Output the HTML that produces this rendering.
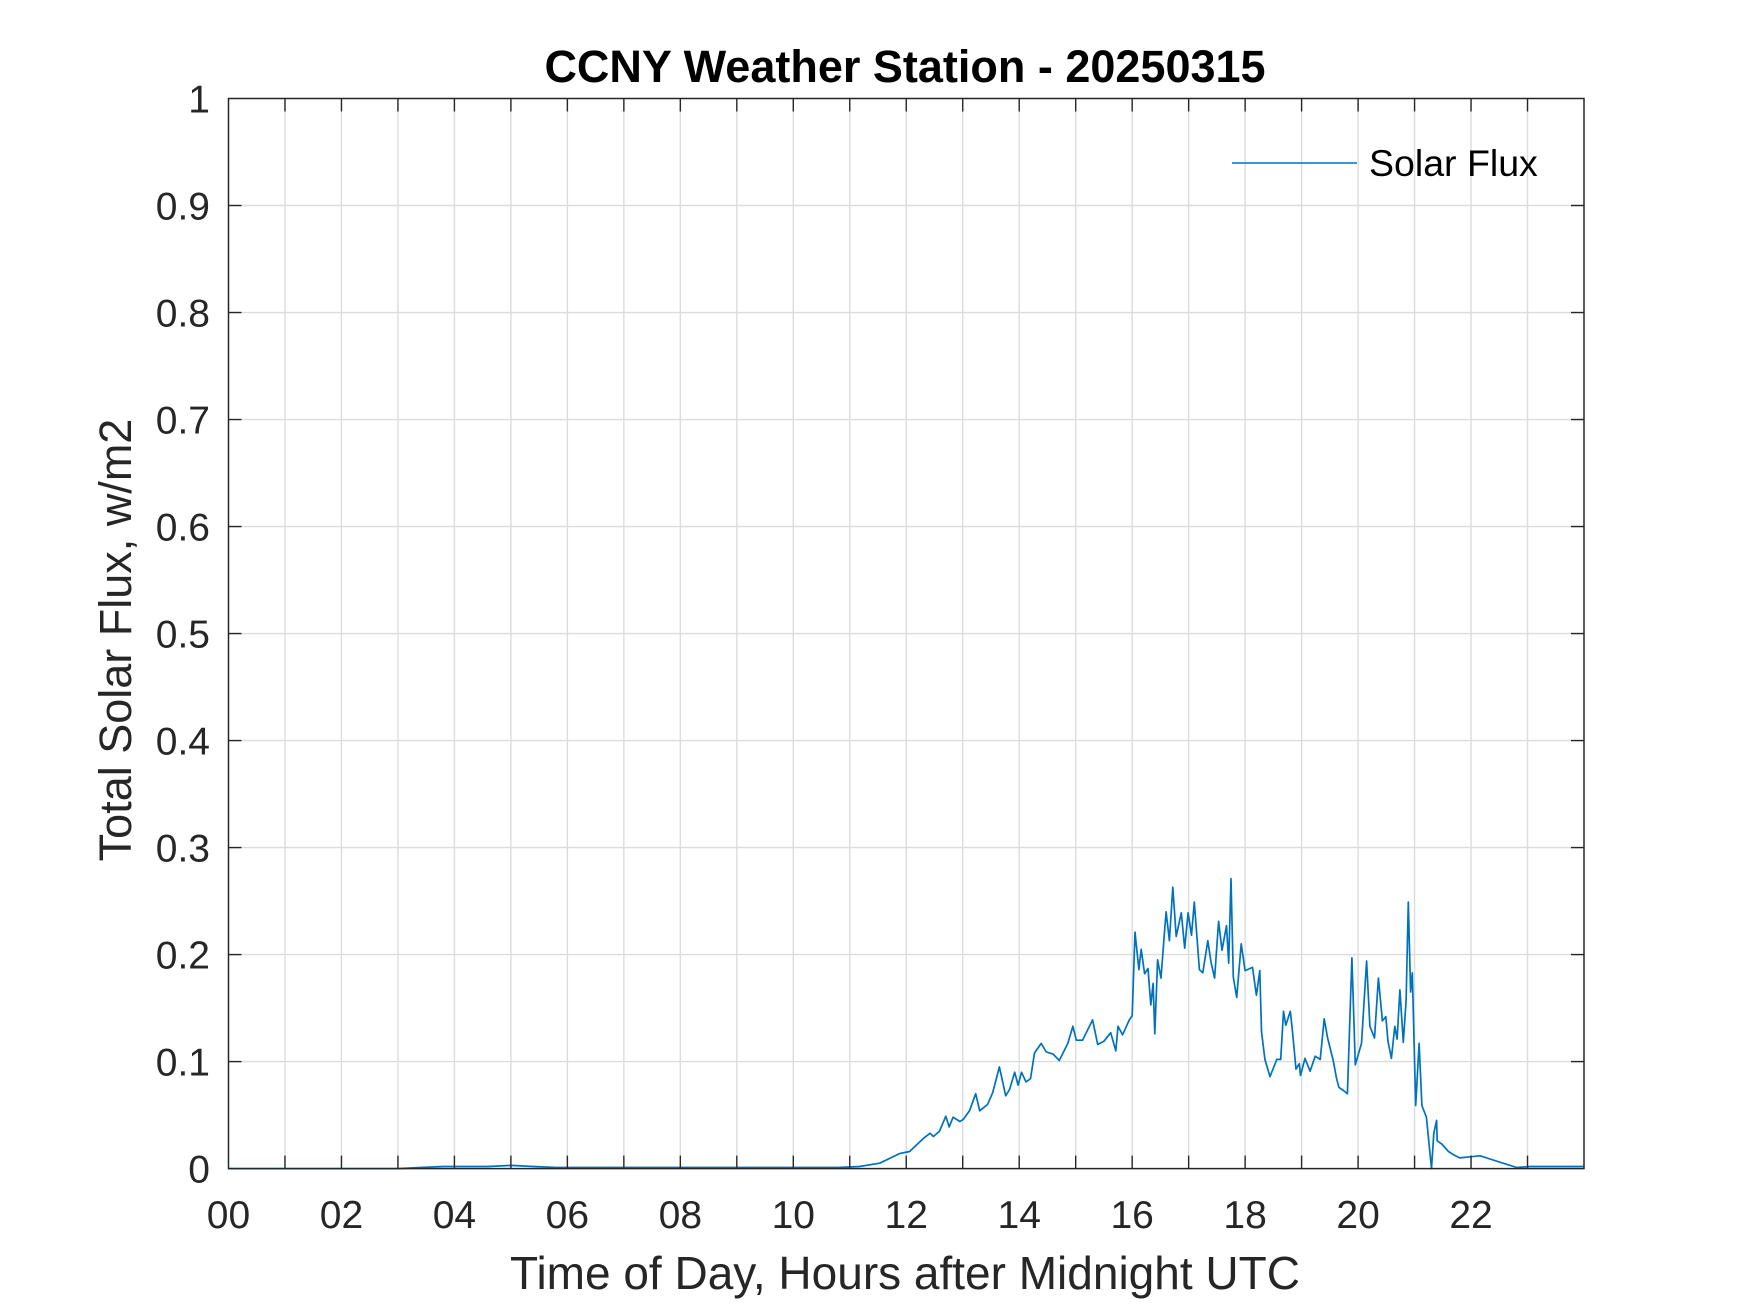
<!DOCTYPE html>
<html><head><meta charset="utf-8"><style>
html,body{margin:0;padding:0;background:#fff}
svg{display:block}
text{font-family:"Liberation Sans",Arial,sans-serif;fill:#262626}
</style></head><body>
<svg id="chart" width="1750" height="1313" viewBox="0 0 1750 1313" xmlns="http://www.w3.org/2000/svg">
<rect width="1750" height="1313" fill="#fff"/>
<g id="grid"></g>
<g id="series"></g>
<g id="axes"></g>
<text x="905" y="82" text-anchor="middle" font-size="45" font-weight="bold" style="fill:#000">CCNY Weather Station - 20250315</text>
<text x="905" y="1289" text-anchor="middle" font-size="46">Time of Day, Hours after Midnight UTC</text>
<text transform="translate(131,640) rotate(-90)" text-anchor="middle" font-size="45">Total Solar Flux, w/m2</text>
<g>
<line x1="1232" y1="163" x2="1357" y2="163" stroke="#0072BD" stroke-width="1.6"/>
<text x="1369" y="176" font-size="37.5" style="fill:#000">Solar Flux</text>
</g>
</svg>
<script>
const hours = [0,1,2,3,3.4,3.8,4.2,4.6,5.0,5.4,5.8,6.5,7.5,8.5,9.5,10.3,10.8,11.17,11.53,11.88,12.06,12.3,12.42,12.48,12.59,12.7,12.76,12.83,12.95,13.01,13.12,13.23,13.3,13.44,13.53,13.65,13.76,13.83,13.92,13.98,14.04,14.12,14.2,14.27,14.39,14.48,14.6,14.71,14.86,14.95,15.01,15.12,15.3,15.39,15.5,15.62,15.71,15.75,15.83,15.95,16.0,16.05,16.12,16.16,16.22,16.28,16.33,16.37,16.4,16.45,16.51,16.57,16.6,16.66,16.72,16.78,16.87,16.93,16.99,17.05,17.1,17.19,17.25,17.34,17.4,17.46,17.53,17.59,17.67,17.71,17.75,17.79,17.85,17.93,18.0,18.13,18.2,18.26,18.29,18.35,18.44,18.56,18.63,18.68,18.72,18.8,18.84,18.9,18.96,18.98,19.06,19.15,19.24,19.33,19.4,19.46,19.56,19.62,19.66,19.74,19.81,19.89,19.95,20.06,20.15,20.21,20.29,20.36,20.43,20.49,20.53,20.59,20.65,20.69,20.74,20.8,20.85,20.89,20.93,20.96,21.02,21.08,21.13,21.21,21.3,21.34,21.39,21.4,21.48,21.6,21.69,21.8,21.98,22.16,22.39,22.63,22.81,23.04,23.28,23.57,23.99];
const flux = [0,0,0,0,0.001,0.002,0.002,0.002,0.003,0.002,0.001,0.001,0.001,0.001,0.001,0.001,0.001,0.002,0.005,0.014,0.016,0.028,0.033,0.030,0.035,0.049,0.039,0.048,0.044,0.046,0.054,0.070,0.054,0.060,0.071,0.095,0.068,0.074,0.090,0.078,0.090,0.081,0.084,0.108,0.117,0.109,0.107,0.101,0.117,0.133,0.120,0.120,0.139,0.116,0.119,0.127,0.110,0.133,0.125,0.139,0.143,0.221,0.186,0.205,0.182,0.187,0.153,0.173,0.126,0.195,0.178,0.220,0.240,0.213,0.263,0.217,0.239,0.206,0.239,0.218,0.249,0.186,0.183,0.213,0.192,0.178,0.231,0.204,0.227,0.192,0.271,0.179,0.16,0.21,0.185,0.188,0.162,0.185,0.128,0.102,0.086,0.102,0.102,0.147,0.134,0.147,0.127,0.093,0.098,0.087,0.103,0.091,0.105,0.102,0.140,0.122,0.101,0.084,0.076,0.073,0.070,0.197,0.097,0.117,0.194,0.133,0.122,0.178,0.138,0.142,0.119,0.103,0.133,0.121,0.167,0.118,0.157,0.249,0.165,0.183,0.059,0.117,0.059,0.048,0.0,0.033,0.045,0.026,0.023,0.016,0.013,0.010,0.011,0.012,0.008,0.004,0.001,0.002,0.002,0.002,0.002];
const xTickLabels = ["00","02","04","06","08","10","12","14","16","18","20","22"];
const yTickLabels = ["0","0.1","0.2","0.3","0.4","0.5","0.6","0.7","0.8","0.9","1"];

const NS = "http://www.w3.org/2000/svg";
const X0 = 228.5, X1 = 1584, Y0 = 1168.6, Y1 = 98.5;
function xs(h){ return X0 + h/24*(X1-X0); }
function ys(v){ return Y0 - v*(Y0-Y1); }
function mk(tag, attrs, parent){ const e=document.createElementNS(NS,tag); for(const k in attrs) e.setAttribute(k,attrs[k]); parent.appendChild(e); return e; }
const grid=document.getElementById('grid'), axes=document.getElementById('axes'), series=document.getElementById('series');

for(let h=1; h<24; h++){
  const g=mk('line',{x1:xs(h),x2:xs(h),y1:Y1,y2:Y0,stroke:'#dcdcdc','stroke-width':1.4},grid);
  
  
  for(const [a,b] of [[Y0,Y0-13],[Y1,Y1+13]]){
    const t=mk('line',{x1:xs(h),x2:xs(h),y1:a,y2:b,stroke:'#262626','stroke-width':1.4},axes);
    
    
  }
}
xTickLabels.forEach((lab,i)=>{
  const t=mk('text',{x:xs(i*2),y:1228,'text-anchor':'middle','font-size':39},axes);
  t.textContent=lab;
  
  
});
yTickLabels.forEach((lab,i)=>{
  const v=i/10;
  if(i>0 && i<10){
    const g=mk('line',{x1:X0,x2:X1,y1:ys(v),y2:ys(v),stroke:'#dcdcdc','stroke-width':1.4},grid);
    
    
    for(const [a,b] of [[X0,X0+13],[X1,X1-13]]){
      const t=mk('line',{x1:a,x2:b,y1:ys(v),y2:ys(v),stroke:'#262626','stroke-width':1.4},axes);
      
      
    }
  }
  const t=mk('text',{x:210,y:ys(v)+14,'text-anchor':'end','font-size':39},axes);
  t.textContent=lab;
  
  
});
const box=mk('rect',{x:X0,y:Y1,width:X1-X0,height:Y0-Y1,fill:'none',stroke:'#262626','stroke-width':1.5},axes);



let d='';
const n=Math.min(hours.length, flux.length);
for(let i=0;i<n;i++){ d+=(i?'L':'M')+xs(hours[i]).toFixed(1)+','+ys(flux[i]).toFixed(1); }
const p=mk('path',{d:d,fill:'none',stroke:'#0072BD','stroke-width':1.7,'stroke-linejoin':'round'},series);


</script>
</body></html>
